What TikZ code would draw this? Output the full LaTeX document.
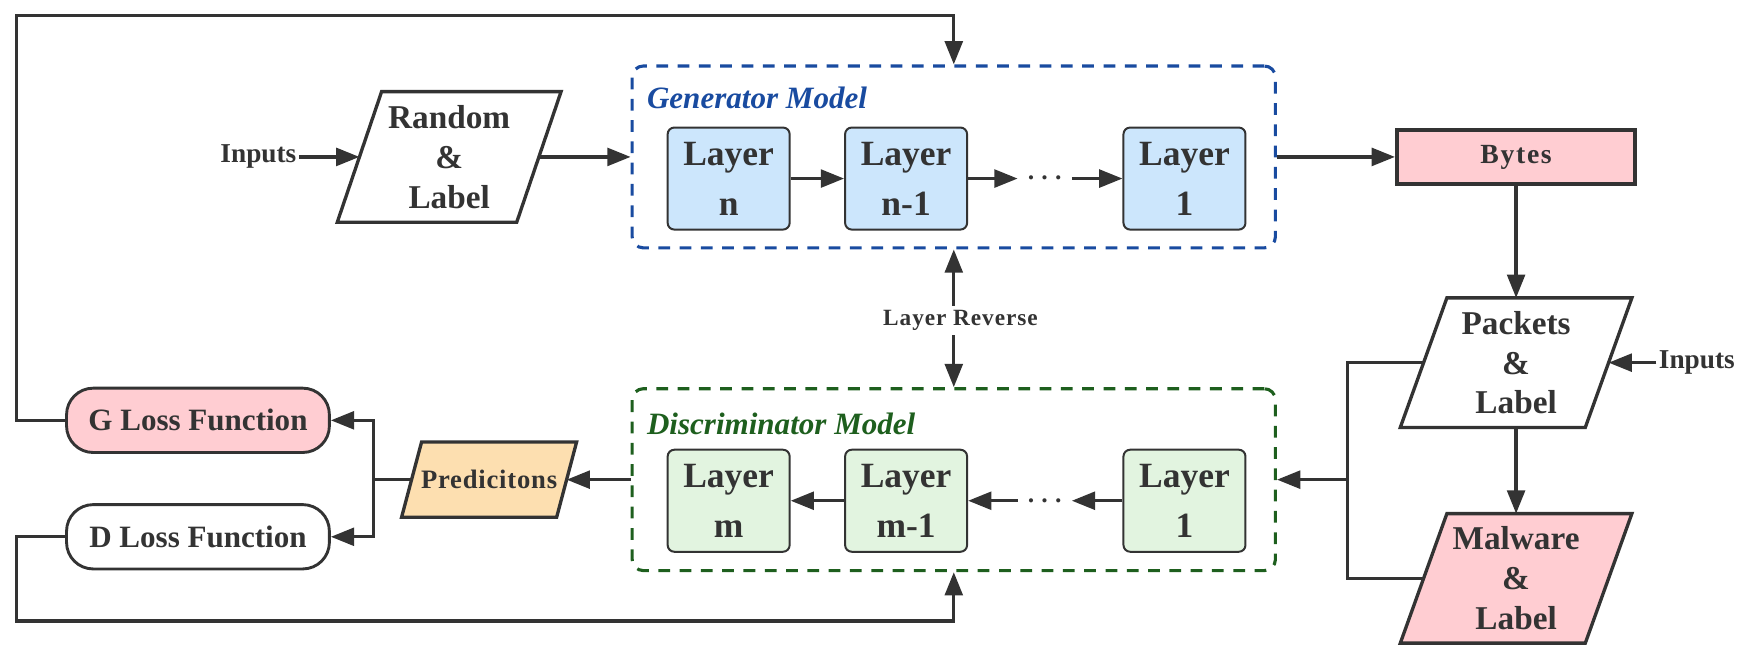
\documentclass[tikz,border=0pt]{standalone}
\usepackage{fontspec}
\setmainfont{Liberation Serif}
\usetikzlibrary{arrows.meta,calc,backgrounds}
\definecolor{ink}{RGB}{51,51,51}
\definecolor{genblue}{RGB}{25,75,160}
\definecolor{discgreen}{RGB}{30,95,30}
\definecolor{layblue}{RGB}{204,230,252}
\definecolor{laygreen}{RGB}{226,244,224}
\definecolor{pinkf}{RGB}{255,205,210}
\definecolor{orangef}{RGB}{253,223,176}
\begin{document}
\begin{tikzpicture}[x=0.5pt,y=-0.5pt,
  text=ink,
  arr/.style={draw=ink, line width=1.5pt, -{Triangle[length=10.5pt,width=8pt]}},
  biarr/.style={draw=ink, line width=1.5pt, {Triangle[length=10.5pt,width=8pt]}-{Triangle[length=10.5pt,width=8pt]}},
  conn/.style={draw=ink, line width=1.5pt},
  layerbox/.style={draw=ink, line width=0.9pt, rounded corners=3pt, minimum width=55pt, minimum height=46pt, align=center, inner sep=0pt, font=\fontsize{16}{22.5}\selectfont\bfseries},
  model/.style={draw, dash pattern=on 5.3pt off 4.3pt, line width=1.4pt, rounded corners=5pt, minimum width=290pt, minimum height=82pt, inner sep=0pt},
  modellabel/.style={anchor=west, inner sep=0pt, font=\fontsize{14}{16}\selectfont\bfseries\itshape},
  paratext/.style={minimum width=83pt, minimum height=58pt, align=center, inner sep=0pt, font=\fontsize{15}{18}\selectfont\bfseries},
  paraline/.style={draw=ink, line width=1.5pt},
  lossbox/.style={draw=ink, line width=1.3pt, rounded corners=12pt, minimum width=118.5pt, minimum height=29pt, inner sep=0pt, font=\fontsize{14}{16}\selectfont\bfseries},
  plain/.style={inner sep=1pt, font=\fontsize{12.3}{14}\selectfont\bfseries},
  dotsnode/.style={inner sep=0pt, minimum width=24pt, font=\fontsize{12}{12}\selectfont\boldmath}
]
\useasboundingbox (0,0) rectangle (1568,598.7);

% Generator
\node[model, draw=genblue] (gen) at (860,141.5) {};
\node[modellabel, text=genblue] (genl) at (583,88) {Generator Model};
\node[layerbox, fill=layblue] (gn) at (657,161) {Layer\\n};
\node[layerbox, fill=layblue] (gn1) at (817,161) {Layer\\n-1};
\node[dotsnode] (gd) at (942,161) {$\cdots$};
\node[layerbox, fill=layblue] (g1) at (1068,161) {Layer\\1};

% Discriminator
\node[model, draw=discgreen] (disc) at (860,432.5) {};
\node[modellabel, text=discgreen] (discl) at (583,382) {Discriminator Model};
\node[layerbox, fill=laygreen] (dm) at (657,451.5) {Layer\\m};
\node[layerbox, fill=laygreen] (dm1) at (817,451.5) {Layer\\m-1};
\node[dotsnode] (dd) at (942,451.5) {$\cdots$};
\node[layerbox, fill=laygreen] (d1) at (1068,451.5) {Layer\\1};

% Inputs, parallelograms
\node[plain] (inl) at (233,141.5) {Inputs};
\node[paratext, minimum width=80.5pt, minimum height=58.5pt] (rand) at (405,141.5) {Random\\\&\\Label};
\node[draw=ink, fill=pinkf, line width=1.7pt, minimum width=107.5pt, minimum height=24.5pt, inner sep=0pt,
      font=\fontsize{12.5}{14}\selectfont\bfseries\addfontfeature{LetterSpace=6}] (bytes) at (1367,141.5) {Bytes};
\node[paratext] (pack) at (1367,327) {Packets\\\&\\Label};
\node[plain] (inr) at (1530,327) {Inputs};
\node[paratext] (mal) at (1367,521.5) {Malware\\\&\\Label};
\node[paratext, minimum width=69.5pt, minimum height=33.5pt, font=\fontsize{12}{14}\selectfont\bfseries\addfontfeature{LetterSpace=3}] (pred) at (441,432.5) {Predicitons};

% Loss functions
\node[lossbox, fill=pinkf] (gloss) at (178.5,379) {G Loss Function};
\node[lossbox, fill=white] (dloss) at (178.5,484) {D Loss Function};

\begin{pgfonlayer}{background}
\filldraw[paraline, fill=white] ($(rand.north west)+(20,0)$) -- ($(rand.north east)+(20,0)$) -- ($(rand.south east)+(-20,0)$) -- ($(rand.south west)+(-20,0)$) -- cycle;
\filldraw[paraline, fill=white] ($(pack.north west)+(21,0)$) -- ($(pack.north east)+(21,0)$) -- ($(pack.south east)+(-21,0)$) -- ($(pack.south west)+(-21,0)$) -- cycle;
\filldraw[paraline, fill=pinkf] ($(mal.north west)+(21,0)$) -- ($(mal.north east)+(21,0)$) -- ($(mal.south east)+(-21,0)$) -- ($(mal.south west)+(-21,0)$) -- cycle;
\filldraw[paraline, fill=orangef] ($(pred.north west)+(9,0)$) -- ($(pred.north east)+(9,0)$) -- ($(pred.south east)+(-9,0)$) -- ($(pred.south west)+(-9,0)$) -- cycle;
\end{pgfonlayer}

% coordinates
\coordinate (tl) at (15,14);
\coordinate (bl) at (15,560);
\coordinate (jr) at (1215,432.5);
\coordinate (jl) at (337,432.5);

% connectors
\draw[arr] (inl.east) -- (rand.west);
\draw[arr] (rand.east) -- (gen.west);
\draw[arr] (gn.east) -- (gn1.west);
\draw[arr] (gn1.east) -- (gd.west);
\draw[arr] (gd.east) -- (g1.west);
\draw[arr] (gen.east) -- (bytes.west);
\draw[arr] (bytes.south) -- (pack.north);
\draw[arr] (inr.west) -- (pack.east);
\draw[arr] (pack.south) -- (mal.north);
\draw[conn] (pack.west) -| (jr) |- (mal.west);
\draw[arr] (jr) -- (disc.east);
\draw[arr] (dm1.west) -- (dm.east);
\draw[arr] (dd.west) -- (dm1.east);
\draw[arr] (d1.west) -- (dd.east);
\draw[arr] (disc.west) -- (pred.east);
\draw[conn] (pred.west) -- (jl);
\draw[arr] (jl) |- (gloss.east);
\draw[arr] (jl) |- (dloss.east);
\draw[arr] (gloss.west) -| (tl) -| (gen.north);
\draw[arr] (dloss.west) -| (bl) -| (disc.south);
\draw[biarr] (gen.south) -- (disc.north);
\node[fill=white, inner sep=2pt, font=\fontsize{10.5}{12}\selectfont\bfseries\addfontfeature{LetterSpace=4}] (lr) at (866,289) {Layer Reverse};
\end{tikzpicture}
\end{document}
